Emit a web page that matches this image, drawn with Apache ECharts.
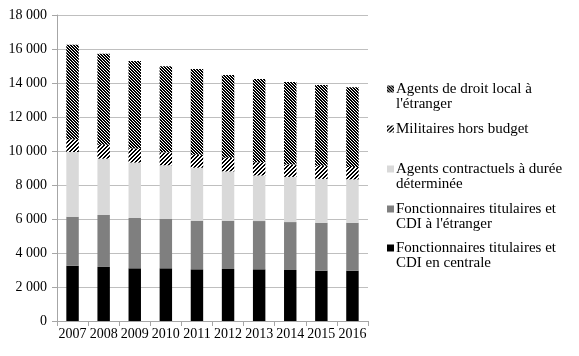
<!DOCTYPE html>
<html>
<head>
<meta charset="utf-8">
<script src="https://cdn.jsdelivr.net/npm/echarts@6/dist/echarts.min.js"></script>
<style>html,body{margin:0;padding:0;background:#fff;}#c{width:579px;height:356px;}</style>
</head>
<body>
<div id="c"></div>
<script>
const years = ['2007','2008','2009','2010','2011','2012','2013','2014','2015','2016'];
const centrale = [3250,3180,3100,3100,3040,3060,3040,3000,2960,2960];
const titulairesEtranger = [2885,3055,2960,2900,2860,2840,2840,2820,2820,2820];
const contractuels = [3805,3315,3260,3160,3120,2900,2680,2660,2580,2550];
const militaires = [750,820,830,760,760,800,780,720,770,730];
const droitLocal = [5560,5350,5140,5060,5040,4870,4900,4860,4750,4685];
const yTicks = [0,2000,4000,6000,8000,10000,12000,14000,16000,18000];

const names = [
  'Fonctionnaires titulaires et CDI en centrale',
  "Fonctionnaires titulaires et CDI à l'étranger",
  'Agents contractuels à durée déterminée',
  'Militaires hors budget',
  "Agents de droit local à l'étranger"
];
const legendLines = {};
legendLines[names[0]] = ['Fonctionnaires titulaires et', 'CDI en centrale'];
legendLines[names[1]] = ['Fonctionnaires titulaires et', "CDI à l'étranger"];
legendLines[names[2]] = ['Agents contractuels à durée', 'déterminée'];
legendLines[names[3]] = ['Militaires hors budget'];
legendLines[names[4]] = ['Agents de droit local à', "l'étranger"];

function makePattern(size, isBlack) {
  const cv = document.createElement('canvas');
  cv.width = size; cv.height = size;
  const ctx = cv.getContext('2d');
  ctx.fillStyle = '#fff';
  ctx.fillRect(0, 0, size, size);
  ctx.fillStyle = '#000';
  for (let y = 0; y < size; y++) {
    for (let x = 0; x < size; x++) {
      if (isBlack(x, y)) ctx.fillRect(x, y, 1, 1);
    }
  }
  return cv;
}
const densePat = makePattern(3, (x, y) => ((x - y) % 3 + 3) % 3 !== 0);
const widePat = makePattern(4, (x, y) => (x + y) % 4 < 2);

const FONT = 'Liberation Serif';
const fmt = v => String(v).replace(/\B(?=(\d{3})+(?!\d))/g, ' ');

const colors = ['#000000', '#7f7f7f', '#d9d9d9',
  {image: widePat, repeat: 'repeat'},
  {image: densePat, repeat: 'repeat'}];
const dataSets = [centrale, titulairesEtranger, contractuels, militaires, droitLocal];

const series = dataSets.map((d, i) => ({
  name: names[i],
  type: 'bar',
  stack: 'total',
  barWidth: '40%',
  data: d,
  itemStyle: {color: colors[i]},
  emphasis: {disabled: true}
}));

const LH = 15;
const legendCenters = [89, 129, 169, 209, 248];
const legendOrder = [4, 3, 2, 1, 0];
const legends = legendOrder.map((si, k) => {
  const lines = legendLines[names[si]];
  const twoLine = lines.length > 1;
  return {
    data: [names[si]],
    left: 387,
    top: legendCenters[k] - (twoLine ? LH * 1.5 : LH / 2),
    orient: 'vertical',
    icon: 'rect',
    itemWidth: 7,
    itemHeight: 7,
    itemGap: 0,
    padding: 0,
    selectedMode: false,
    formatter: n => (legendLines[n].length > 1 ? ' \n' : '') + legendLines[n].join('\n'),
    textStyle: {
      fontFamily: FONT, fontSize: 15, color: '#000', lineHeight: LH,
      padding: [0, 0, 0, -3]
    }
  };
});

const chart = echarts.init(document.getElementById('c'), null, {renderer: 'canvas'});
chart.setOption({
  animation: false,
  backgroundColor: '#fff',
  grid: {left: 57, right: 211, top: 15, bottom: 35, containLabel: false},
  legend: legends,
  xAxis: {
    type: 'category',
    data: years,
    axisLine: {lineStyle: {color: '#a6a6a6', width: 1}},
    axisTick: {show: true, length: 5, lineStyle: {color: '#a6a6a6'}},
    axisLabel: {fontFamily: FONT, fontSize: 14, color: '#000', margin: 6, interval: 0, hideOverlap: false}
  },
  yAxis: {
    type: 'value',
    min: yTicks[0],
    max: yTicks[yTicks.length - 1],
    interval: 2000,
    axisLine: {show: true, lineStyle: {color: '#a6a6a6', width: 1}},
    axisTick: {show: true, length: 5, lineStyle: {color: '#a6a6a6'}},
    splitLine: {lineStyle: {color: '#bfbfbf', width: 1}},
    axisLabel: {fontFamily: FONT, fontSize: 14, color: '#000', margin: 10, formatter: fmt}
  },
  series: series
});
</script>
</body>
</html>
